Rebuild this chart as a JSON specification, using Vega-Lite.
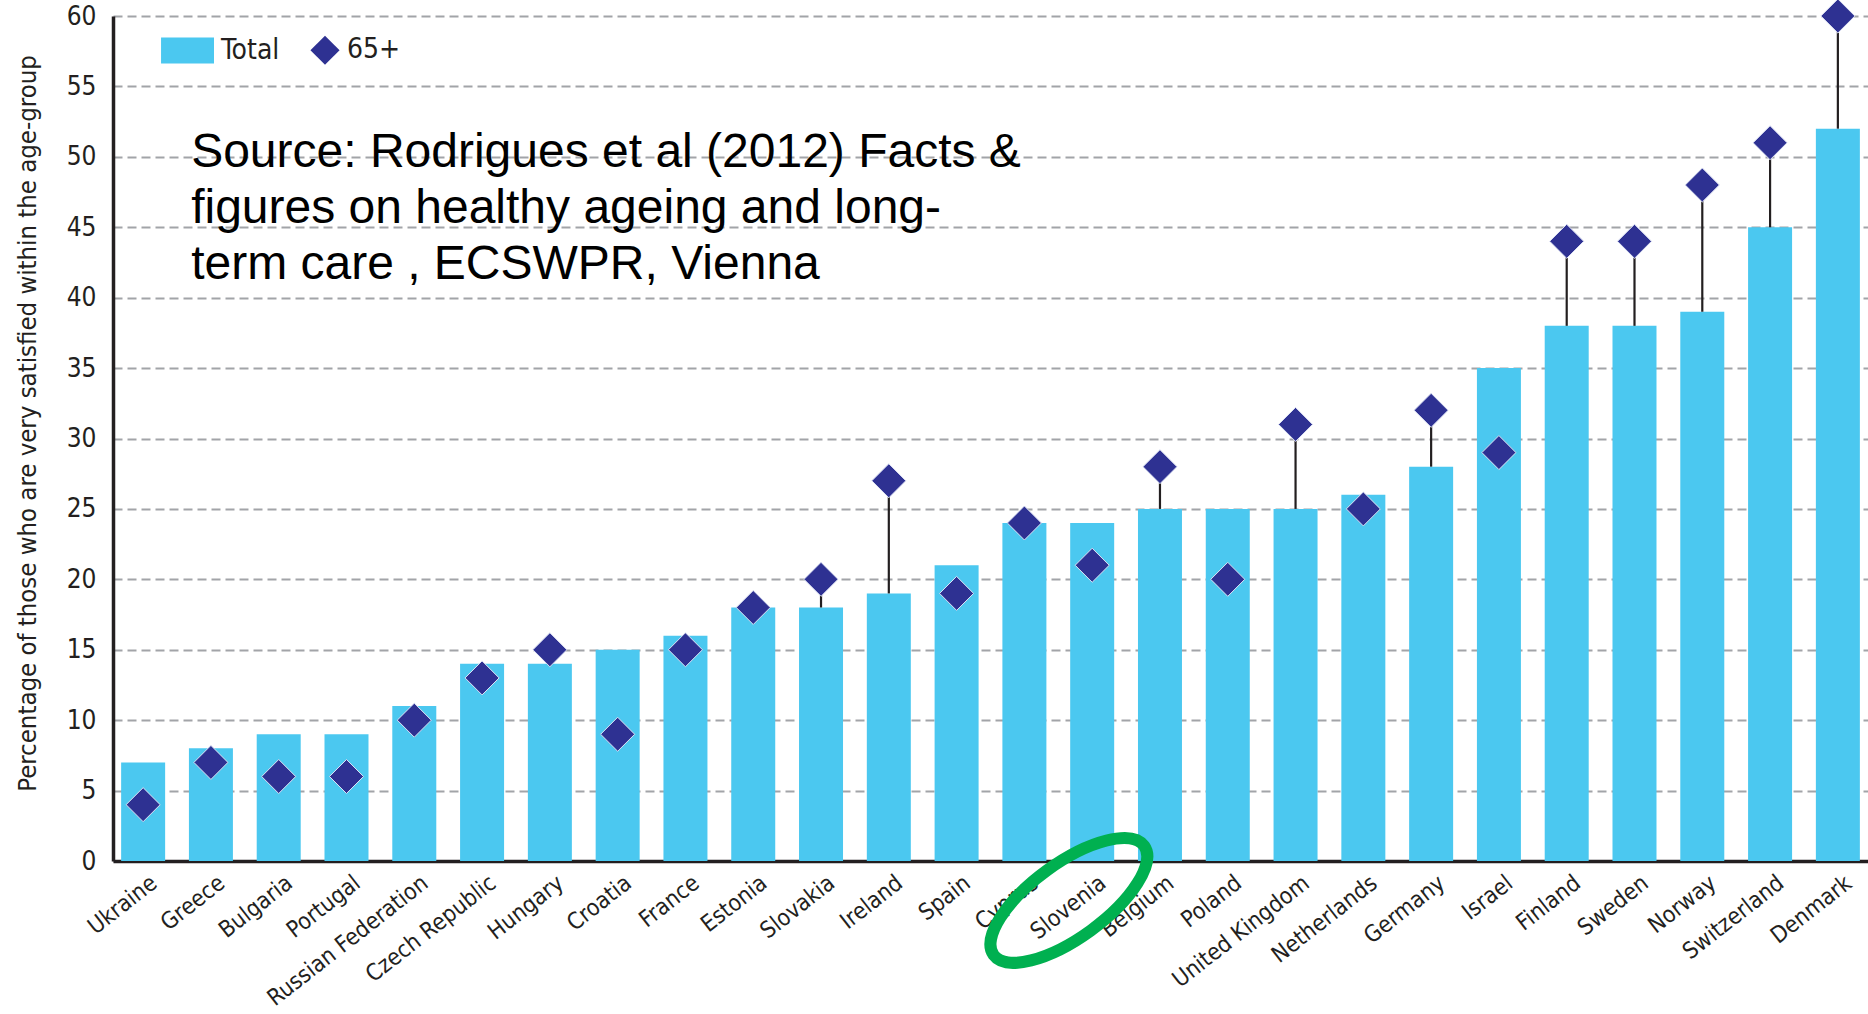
{
  "$schema": "https://vega.github.io/schema/vega-lite/v6.json",
  "width": 1755,
  "height": 845,
  "autosize": "none",
  "padding": {"left": 113, "top": 16, "right": 0, "bottom": 153},
  "background": "white",
  "config": {
    "view": {"stroke": null},
    "font": "Liberation Sans",
    "legend": {
      "orient": "none",
      "legendX": 71,
      "legendY": 19,
      "direction": "horizontal",
      "symbolSize": 900,
      "symbolStrokeWidth": 0,
      "symbolOpacity": 1,
      "labelFont": "Liberation Sans Narrow, DejaVu Sans Condensed, Liberation Sans",
      "labelFontSize": 28,
      "labelColor": "#231f20",
      "labelOffset": 7,
      "columnPadding": 30,
      "padding": 0,
      "title": null
    }
  },
  "data": {
    "values": [
      {"country": "Ukraine", "Total": 7, "65+": 4},
      {"country": "Greece", "Total": 8, "65+": 7},
      {"country": "Bulgaria", "Total": 9, "65+": 6},
      {"country": "Portugal", "Total": 9, "65+": 6},
      {"country": "Russian Federation", "Total": 11, "65+": 10},
      {"country": "Czech Republic", "Total": 14, "65+": 13},
      {"country": "Hungary", "Total": 14, "65+": 15},
      {"country": "Croatia", "Total": 15, "65+": 9},
      {"country": "France", "Total": 16, "65+": 15},
      {"country": "Estonia", "Total": 18, "65+": 18},
      {"country": "Slovakia", "Total": 18, "65+": 20},
      {"country": "Ireland", "Total": 19, "65+": 27},
      {"country": "Spain", "Total": 21, "65+": 19},
      {"country": "Cyprus", "Total": 24, "65+": 24},
      {"country": "Slovenia", "Total": 24, "65+": 21},
      {"country": "Belgium", "Total": 25, "65+": 28},
      {"country": "Poland", "Total": 25, "65+": 20},
      {"country": "United Kingdom", "Total": 25, "65+": 31},
      {"country": "Netherlands", "Total": 26, "65+": 25},
      {"country": "Germany", "Total": 28, "65+": 32},
      {"country": "Israel", "Total": 35, "65+": 29},
      {"country": "Finland", "Total": 38, "65+": 44},
      {"country": "Sweden", "Total": 38, "65+": 44},
      {"country": "Norway", "Total": 39, "65+": 48},
      {"country": "Switzerland", "Total": 45, "65+": 51},
      {"country": "Denmark", "Total": 52, "65+": 60}
    ]
  },
  "encoding": {
    "x": {
      "field": "country",
      "type": "nominal",
      "sort": null,
      "scale": {"paddingInner": 0.351, "paddingOuter": 0.12},
      "axis": {
        "title": null,
        "labelAngle": -38,
        "labelAlign": "right",
        "labelBaseline": "middle",
        "labelFont": "Liberation Sans Narrow, DejaVu Sans Condensed, Liberation Sans",
        "labelFontSize": 23,
        "labelColor": "#231f20",
        "labelPadding": 19,
        "labelOffset": 11,
        "labelLimit": 0,
        "ticks": false,
        "domainColor": "#231f20",
        "domainWidth": 3.5,
        "grid": false
      }
    }
  },
  "layer": [
    {
      "transform": [{"fold": ["Total"], "as": ["series", "value"]}],
      "mark": {"type": "bar"},
      "encoding": {
        "y": {
          "field": "value",
          "type": "quantitative",
          "scale": {"domain": [0, 60], "nice": false},
          "axis": {
            "title": "Percentage of those who are very satisfied within the age-group",
            "values": [0, 5, 10, 15, 20, 25, 30, 35, 40, 45, 50, 55, 60],
            "grid": true,
            "gridDash": [9, 5],
            "gridColor": "#a2a4a8",
            "gridWidth": 2,
            "domainColor": "#231f20",
            "domainWidth": 3.5,
            "ticks": false,
            "labelPadding": 17,
            "labelFont": "Liberation Sans Narrow, DejaVu Sans Condensed, Liberation Sans",
            "labelFontSize": 26,
            "labelColor": "#231f20",
            "titleFont": "Liberation Sans Narrow, DejaVu Sans Condensed, Liberation Sans",
            "titleFontSize": 25.5,
            "titleFontWeight": "normal",
            "titleColor": "#231f20",
            "titleAngle": -90,
            "titleAlign": "center",
            "titleBaseline": "middle",
            "titleX": -86,
            "titleY": 407
          }
        },
        "color": {
          "field": "series",
          "type": "nominal",
          "scale": {"domain": ["Total", "65+"], "range": ["#4bc8f0", "#2e3192"]},
          "legend": {"title": null}
        }
      }
    },
    {
      "transform": [{"filter": "datum['65+'] > datum.Total"}],
      "mark": {"type": "rule", "color": "#231f20", "strokeWidth": 2.2},
      "encoding": {
        "y": {"field": "Total", "type": "quantitative"},
        "y2": {"field": "65+"}
      }
    },
    {
      "transform": [{"fold": ["65+"], "as": ["series", "value"]}],
      "mark": {"type": "point", "filled": true, "size": 1230, "opacity": 1, "stroke": "#dde2f4", "strokeWidth": 1},
      "encoding": {
        "y": {"field": "value", "type": "quantitative"},
        "color": {"field": "series", "type": "nominal", "legend": {"title": null}},
        "shape": {
          "field": "series",
          "type": "nominal",
          "scale": {
            "domain": ["Total", "65+"],
            "range": ["M-2.53,-0.87L1,-0.87L1,0.87L-2.53,0.87Z", "M0,-0.97L0.97,0L0,0.97L-0.97,0Z"]
          },
          "legend": {"title": null}
        }
      }
    },
    {
      "data": {"values": [{}]},
      "mark": {
        "type": "text",
        "align": "left",
        "baseline": "alphabetic",
        "font": "Liberation Sans",
        "fontSize": 48,
        "lineHeight": 56,
        "color": "#000000",
        "dx": 48
      },
      "encoding": {
        "x": {"datum": "Ukraine"},
        "y": {"datum": 49.3},
        "text": {"value": ["Source: Rodrigues et al (2012) Facts &", "figures on healthy ageing and long-", "term care , ECSWPR, Vienna"]}
      }
    },
    {
      "data": {"values": [{}]},
      "mark": {
        "type": "point",
        "shape": "M1,0C1,0.221 0.5523,0.4 0,0.4C-0.5523,0.4 -1,0.221 -1,0C-1,-0.221 -0.5523,-0.4 0,-0.4C0.5523,-0.4 1,-0.221 1,0Z",
        "size": 34596,
        "filled": false,
        "opacity": 1,
        "stroke": "#00b050",
        "strokeWidth": 12,
        "angle": -36
      },
      "encoding": {
        "x": {"datum": "Slovenia", "bandPosition": -0.03},
        "y": {"datum": -2.8}
      }
    }
  ]
}
